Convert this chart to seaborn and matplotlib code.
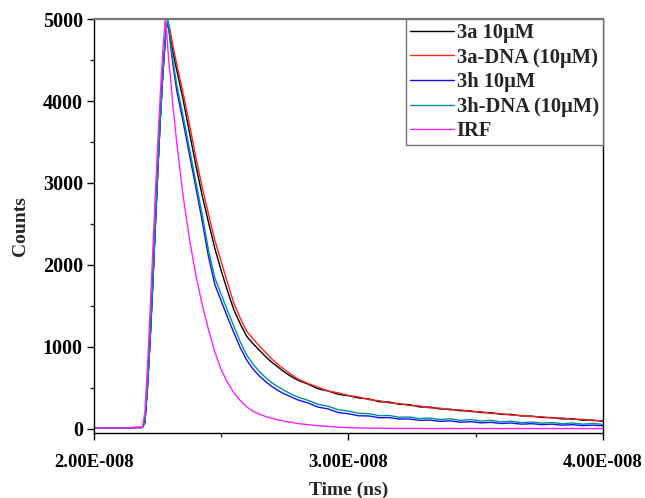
import numpy as np
import pandas as pd
import matplotlib
matplotlib.use("Agg")
import matplotlib.pyplot as plt
import seaborn as sns

# Datos (tiempo en ns, cuentas)
time_ns = [20.0, 21.0, 21.9, 22.0, 22.1, 22.2, 22.3, 22.4, 22.5, 22.6, 22.7, 22.8,
           22.85, 22.9, 22.95, 23.0, 23.1, 23.25, 23.5, 23.75, 24.0, 24.25, 24.5,
           24.75, 25.0, 25.25, 25.5, 25.75, 26.0, 26.25, 26.5, 26.75, 27.0, 27.25,
           27.5, 27.75, 28.0, 28.4, 28.8, 29.2, 29.6, 30.0, 30.4, 30.8, 31.2, 31.6,
           32.0, 32.4, 32.8, 33.2, 33.6, 34.0, 34.4, 34.8, 35.2, 35.6, 36.0, 36.4,
           36.8, 37.2, 37.6, 38.0, 38.4, 38.8, 39.2, 39.6, 40.0]

counts_3a = [14, 12, 18, 80, 500, 1050, 1700, 2400, 3100, 3750, 4300, 4750,
             4900, 4950, 4870, 4780, 4600, 4380, 4020, 3620, 3220, 2850, 2520,
             2200, 1930, 1680, 1450, 1280, 1130, 1040, 960, 880, 810, 750,
             690, 640, 595, 548, 490, 462, 422, 405, 378, 366, 332, 328,
             300, 296, 268, 266, 244, 240, 222, 220, 200, 198, 178, 176,
             158, 156, 140, 138, 122, 124, 106, 108, 92]

counts_3a_dna = [14, 12, 18, 80, 500, 1050, 1700, 2400, 3100, 3750, 4300, 4750,
                 4900, 4960, 4920, 4850, 4680, 4450, 4100, 3720, 3320, 2950, 2620,
                 2300, 2040, 1780, 1530, 1350, 1190, 1100, 1010, 930, 850, 780,
                 720, 665, 610, 555, 510, 462, 440, 408, 390, 356, 345, 316,
                 310, 285, 280, 256, 254, 232, 232, 210, 210, 188, 186, 168,
                 164, 150, 148, 132, 134, 116, 118, 100, 102]

counts_3h = [14, 12, 18, 80, 500, 1050, 1700, 2400, 3100, 3750, 4300, 4750,
             4900, 4990, 4850, 4700, 4450, 4130, 3750, 3350, 2950, 2540, 2100,
             1760, 1560, 1360, 1170, 990, 840, 730, 645, 575, 515, 465,
             425, 390, 355, 318, 266, 244, 200, 185, 160, 158, 136, 138,
             120, 122, 104, 108, 92, 98, 82, 88, 74, 80, 66, 72,
             58, 64, 52, 58, 46, 52, 40, 46, 38]

counts_3h_dna = [14, 12, 18, 80, 500, 1050, 1700, 2400, 3100, 3750, 4300, 4750,
                 4900, 5000, 4880, 4750, 4500, 4200, 3820, 3420, 3020, 2620, 2180,
                 1840, 1640, 1440, 1250, 1060, 900, 790, 700, 625, 560, 510,
                 465, 425, 390, 350, 300, 276, 234, 218, 190, 186, 162, 164,
                 142, 146, 126, 132, 114, 124, 104, 114, 96, 104, 86, 94,
                 76, 84, 70, 78, 64, 72, 58, 66, 56]

counts_irf = [12, 10, 20, 200, 750, 1400, 2100, 2800, 3450, 4050, 4600, 4990,
              4850, 4650, 4450, 4300, 3950, 3500, 2850, 2320, 1880, 1520, 1210,
              940, 720, 565, 440, 345, 270, 215, 180, 150, 128, 110,
              92, 80, 66, 52, 40, 30, 22, 15, 12, 9, 8, 7,
              6, 5, 6, 4, 5, 5, 4, 6, 4, 5, 4, 5,
              4, 5, 4, 5, 4, 5, 4, 4, 4]

series_names = ["3a 10\u03bcM", "3a-DNA (10\u03bcM)", "3h 10\u03bcM",
                "3h-DNA (10\u03bcM)", "IRF"]
series_colors = ["#000000", "#ff2020", "#1010ff", "#009090", "#ff20ff"]

x_ticks_s = [2.0e-8, 3.0e-8, 4.0e-8]
x_tick_labels = ["2.00E-008", "3.00E-008", "4.00E-008"]

# Tabla larga para seaborn
all_counts = [counts_3a, counts_3a_dna, counts_3h, counts_3h_dna, counts_irf]
frames = []
for name, vals in zip(series_names, all_counts):
    frames.append(pd.DataFrame({"time": np.array(time_ns) * 1e-9,
                                "counts": vals, "serie": name}))
df = pd.concat(frames, ignore_index=True)

sns.set_style("ticks")
plt.rcParams["font.family"] = ["Liberation Serif", "DejaVu Serif"]
plt.rcParams["font.weight"] = "bold"

fig = plt.figure(figsize=(6.45, 4.98), dpi=100)
ax = fig.add_axes([0.1457, 0.1305, 0.7891, 0.8313])

sns.lineplot(data=df, x="time", y="counts", hue="serie", hue_order=series_names,
             palette=series_colors, estimator=None, sort=False, linewidth=1.0,
             ax=ax)

ax.set_xlim(2.0e-8, 4.0e-8)
ax.set_ylim(-50, 5000)
ax.set_xticks(x_ticks_s)
ax.set_xticklabels(x_tick_labels)
ax.set_xticks([2.5e-8, 3.5e-8], minor=True)
ax.set_yticks([0, 1000, 2000, 3000, 4000, 5000])
ax.set_yticks([500, 1500, 2500, 3500, 4500], minor=True)
ax.tick_params(axis="both", which="major", direction="out", length=5,
               width=1, labelsize=13.5, colors="black")
ax.tick_params(axis="y", which="major", labelsize=14.5)
ax.tick_params(axis="both", which="minor", direction="out", length=3, width=1)
ax.tick_params(axis="x", pad=10)
ax.tick_params(axis="y", pad=3)

for side in ["left", "bottom", "right"]:
    ax.spines[side].set_visible(True)
    ax.spines[side].set_color("black")
    ax.spines[side].set_linewidth(1)
ax.spines["top"].set_visible(True)
ax.spines["top"].set_color("#777777")
ax.spines["top"].set_linewidth(1.6)

ax.set_xlabel("Time (ns)", fontsize=14, fontweight="bold", labelpad=8)
ax.set_ylabel("Counts", fontsize=14, fontweight="bold", labelpad=10)

handles, labels = ax.get_legend_handles_labels()
leg = ax.legend(handles, labels, loc="upper right", bbox_to_anchor=(1.0, 1.0),
                borderaxespad=0, fancybox=False, framealpha=1,
                edgecolor="#777777", handlelength=2.1,
                handletextpad=0.15, labelspacing=0.22, borderpad=0.2,
                prop={"weight": "bold", "size": 14.8})
leg.get_frame().set_linewidth(1)

plt.savefig("out.png", dpi=100)
